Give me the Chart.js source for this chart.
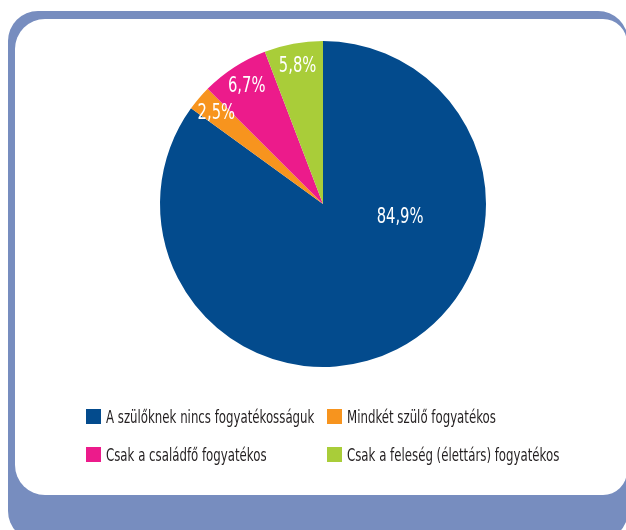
<!DOCTYPE html>
<html lang="hu">
<head>
<meta charset="utf-8">
<title>Fogyatékosság a családban</title>
<script src="https://cdn.jsdelivr.net/npm/chart.js@4.4.1/dist/chart.umd.min.js"></script>
<style>
    html, body {
        margin: 0;
        padding: 0;
        width: 626px;
        height: 530px;
        overflow: hidden;
        background: #ffffff;
    }
    .frame {
        position: absolute;
        left: 8px;
        top: 11px;
        width: 620px;
        height: 530px;
        background: #778dbf;
        border-radius: 30px;
    }
    .card {
        position: absolute;
        left: 15px;
        top: 19px;
        width: 612px;
        height: 476px;
        background: #ffffff;
        border-radius: 30px 24px 24px 30px;
    }
    #pieChart {
        position: absolute;
        left: 0;
        top: 0;
    }
    .legend {
        position: absolute;
        left: 86px;
        top: 409px;
        display: grid;
        grid-template-columns: 241px 260px;
        row-gap: 23px;
        font-family: 'DejaVu Sans Condensed', 'DejaVu Sans', sans-serif;
        font-size: 17px;
        color: #231f20;
    }
    .legend-item {
        display: flex;
        align-items: center;
        height: 15px;
        white-space: nowrap;
    }
    .legend-box {
        width: 15px;
        height: 15px;
        margin-right: 5px;
        flex: none;
    }
    .legend-text {
        display: inline-block;
        transform: scaleX(0.77);
        transform-origin: left center;
    }
</style>
</head>
<body>
<div class="frame"></div>
<div class="card"></div>
<canvas id="pieChart" width="626" height="530"></canvas>
<div class="legend" id="legend"></div>

<script>
// Chart data
const categories = [
    'A szülőknek nincs fogyatékosságuk',
    'Mindkét szülő fogyatékos',
    'Csak a családfő fogyatékos',
    'Csak a feleség (élettárs) fogyatékos'
];
const shares = [84.9, 2.5, 6.7, 5.8];
const sliceColors = ['#034b8d', '#f7941e', '#ec1b8b', '#a9cd39'];

const labelFont = "'DejaVu Sans Condensed', 'DejaVu Sans', sans-serif";

// Draws the percentage labels inside the slices (condensed look)
const sliceLabels = {
    id: 'sliceLabels',
    afterDatasetsDraw(chart) {
        const ctx = chart.ctx;
        const meta = chart.getDatasetMeta(0);
        meta.data.forEach((arc, i) => {
            const p = arc.getProps(['x', 'y', 'startAngle', 'endAngle', 'outerRadius'], true);
            const span = p.endAngle - p.startAngle;
            let angle, dist;
            if (span > Math.PI) {
                // big slice: label sits right of the centre
                angle = p.startAngle + span * 0.327;
                dist = p.outerRadius * 0.48;
            } else {
                angle = p.startAngle + span / 2;
                dist = p.outerRadius * 0.86;
            }
            const text = shares[i].toFixed(1).replace('.', ',') + '%';
            ctx.save();
            ctx.translate(p.x + Math.cos(angle) * dist, p.y + Math.sin(angle) * dist);
            ctx.scale(0.78, 1);
            ctx.fillStyle = '#ffffff';
            ctx.font = '21px ' + labelFont;
            ctx.textAlign = 'center';
            ctx.textBaseline = 'middle';
            ctx.fillText(text, 0, 0);
            ctx.restore();
        });
    }
};

const chart = new Chart(document.getElementById('pieChart'), {
    type: 'pie',
    data: {
        labels: categories,
        datasets: [{
            data: shares,
            backgroundColor: sliceColors,
            borderWidth: 0
        }]
    },
    options: {
        responsive: false,
        animation: false,
        layout: {
            padding: { left: 160, right: 140, top: 41, bottom: 163 }
        },
        plugins: {
            legend: { display: false },
            tooltip: { enabled: false }
        }
    },
    plugins: [sliceLabels]
});

// HTML legend, two columns like the original
const legendEl = document.getElementById('legend');
chart.data.labels.forEach((label, i) => {
    const item = document.createElement('div');
    item.className = 'legend-item';
    const box = document.createElement('span');
    box.className = 'legend-box';
    box.style.background = chart.data.datasets[0].backgroundColor[i];
    const text = document.createElement('span');
    text.className = 'legend-text';
    text.textContent = label;
    item.appendChild(box);
    item.appendChild(text);
    legendEl.appendChild(item);
});
</script>
</body>
</html>
